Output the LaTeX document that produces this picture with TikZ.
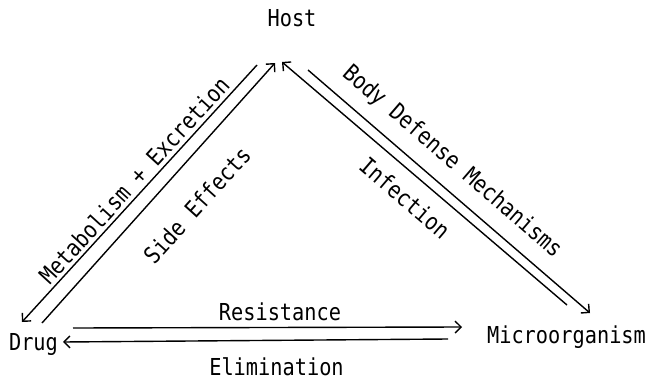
\documentclass[tikz,border=0pt]{standalone}
\usepackage{graphicx}
\usepackage{fontspec}
\newfontfamily\typew{DejaVu Sans Mono}
\usetikzlibrary{arrows.meta}
\newcommand\twtext[1]{\scalebox{1}[1.15]{#1}}
\tikzset{
  lbl/.style={inner sep=0pt, font=\fontsize{20.3}{20.3}\selectfont\typew},
  arr/.style={line width=1.4pt, -{Straight Barb[length=6pt,width=12pt,line width=1.4pt]}},
}
\begin{document}
\begin{tikzpicture}[x=1pt,y=-1pt]
\useasboundingbox (0,0) rectangle (651,380);
% main nodes
\node[lbl, anchor=base] (host) at (292,27) {\twtext{Host}};
\node[lbl, anchor=base] (drug) at (33.5,350) {\twtext{Drug}};
\node[lbl, anchor=base] (micro) at (566.5,343) {\twtext{Microorganism}};
% connector end points
\coordinate (meA) at (257,65);  \coordinate (meB) at (22,322);
\coordinate (seA) at (42,323);  \coordinate (seB) at (275,63);
\coordinate (inA) at (567,305); \coordinate (inB) at (282,62);
\coordinate (bdA) at (308,70);  \coordinate (bdB) at (590,313);
\coordinate (reA) at (73,328);  \coordinate (reB) at (462,327);
\coordinate (elA) at (448,339); \coordinate (elB) at (63,342);
% connectors
\draw[arr] (meA) -- (meB);
\draw[arr] (seA) -- (seB);
\draw[arr] (inA) -- (inB);
\draw[arr] (bdA) -- (bdB);
\draw[arr] (reA) -- (reB);
\draw[arr] (elA) -- (elB);
% labels
\node[lbl, rotate=47.6] (lme) at (134,180) {\twtext{Metabolism + Excretion}};
\node[lbl, rotate=48] (lse) at (197,205) {\twtext{Side Effects}};
\node[lbl, rotate=-40.8] (lbd) at (452,162) {\twtext{Body Defense Mechanisms}};
\node[lbl, rotate=-40.5] (lin) at (405,198) {\twtext{Infection}};
\node[lbl, anchor=base] (lre) at (280,320) {\twtext{Resistance}};
\node[lbl, anchor=base] (lel) at (276.5,375.5) {\twtext{Elimination}};
\end{tikzpicture}
\end{document}
